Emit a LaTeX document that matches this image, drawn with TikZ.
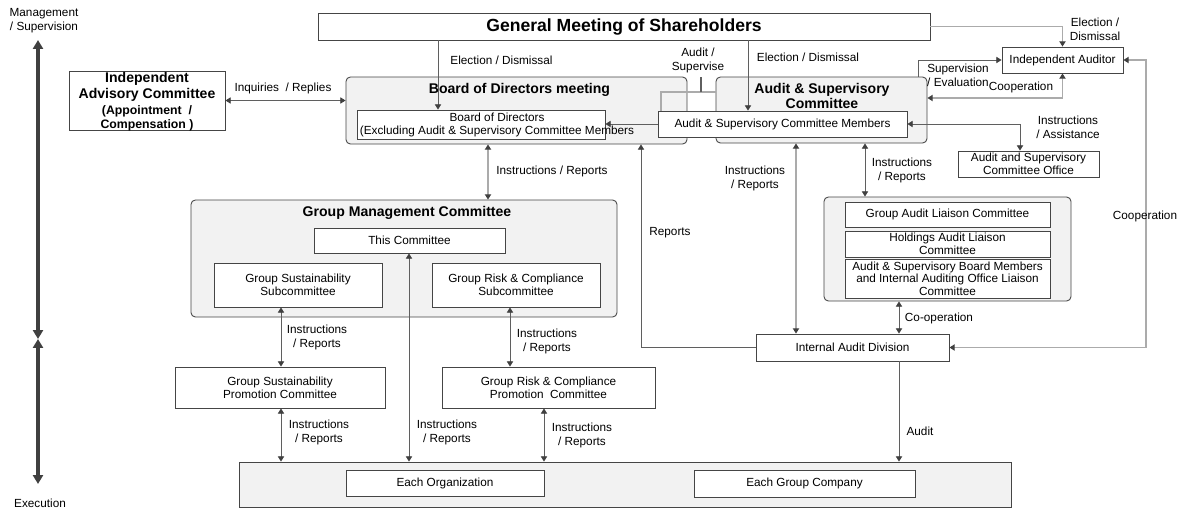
\documentclass[tikz,border=0pt]{standalone}
\usepackage{fontspec}
\setmainfont{Liberation Sans}
\usetikzlibrary{arrows.meta}
\definecolor{bord}{HTML}{454545}
\definecolor{grp}{HTML}{F2F2F2}
\definecolor{cdark}{HTML}{5F5F5F}
\definecolor{clight}{HTML}{ABABAB}
\definecolor{tipc}{HTML}{404040}
\newcommand{\smalltxt}{\fontsize{6.7}{7.4}\selectfont}
\newcommand{\lbltxt}{\fontsize{6.7}{8}\selectfont}
\newcommand{\headtxt}{\fontsize{8}{9}\selectfont\bfseries}
\newcommand{\subtxt}{\fontsize{7}{8}\selectfont\bfseries}
\tikzset{
  sz/.style 2 args={minimum width=#1*0.02cm,minimum height=#2*0.02cm},
  box/.style={draw=bord,fill=white,line width=0.5pt,inner sep=0pt,align=center,font=\smalltxt},
  grpbox/.style={box,fill=grp,rounded corners=2.5pt},
  lbl/.style={inner sep=0pt,align=center,font=\lbltxt},
  ttl/.style={inner sep=0pt,align=center,font=\headtxt},
  conn/.style={draw=cdark,line width=0.5pt},
  connl/.style={draw=clight,line width=0.6pt},
  ar/.style={-{Triangle[length=3pt,width=3.6pt,color=tipc]}},
  dar/.style={{Triangle[length=3pt,width=3.6pt,color=tipc]}-{Triangle[length=3pt,width=3.6pt,color=tipc]}},
  bigar/.style={draw=tipc,line width=2.2pt,{Triangle[length=5pt,width=5.6pt]}-{Triangle[length=5pt,width=5.6pt]}}
}
\begin{document}
\begin{tikzpicture}[x=0.02cm,y=-0.02cm]
\useasboundingbox (0,0) rectangle (1188,514);
\node[lbl] (mgmt) at (44,21) {Management\\/ Supervision};
\node[lbl] (exec) at (40,503) {Execution};
\coordinate (ltop) at (38,40);
\coordinate (lmid) at (38,339);
\coordinate (lbot) at (38,484);
\draw[bigar] (ltop) -- (lmid);
\draw[bigar] (lmid) -- (lbot);

\node[box,sz={612}{27},font=\fontsize{10}{12}\selectfont\bfseries] (gm) at (624,26.5) {General Meeting of Shareholders};
\node[box,sz={156}{59},font=\headtxt] (iac) at (147,100.5) {};
\node[ttl] (iact) at (147,102) {Independent\\Advisory Committee\\\subtxt (Appointment~~/\\[-1pt]\subtxt Compensation~)};

\node[grpbox,sz={341}{67}] (bdm) at (516.5,110.5) {};
\node[ttl] (bdmt) at (519.5,90) {Board of Directors meeting};
\node[grpbox,sz={211}{66}] (asc) at (821.5,110) {};
\node[ttl] (asct) at (822,96) {Audit \& Supervisory\\Committee};
\node[box,sz={248}{29}] (bod) at (481,124.5) {};
\node[lbl,font=\smalltxt] (bodt) at (497,124.5) {Board of Directors\\(Excluding Audit \& Supervisory Committee Members};
\node[box,sz={249}{26}] (ascm) at (782.5,124) {Audit \& Supervisory Committee Members};
\node[box,sz={121}{26}] (ia) at (1062.5,60) {Independent Auditor};
\node[box,sz={141}{26}] (aso) at (1028.5,164) {Audit and Supervisory\\Committee Office};

\node[grpbox,sz={426}{117}] (gmc) at (404,258.5) {};
\node[ttl] (gmct) at (407,213) {Group Management Committee};
\node[box,sz={191}{25}] (tc) at (409.5,240.5) {This Committee};
\node[box,sz={168}{44}] (gss) at (298,285) {Group Sustainability\\Subcommittee};
\node[box,sz={168}{44}] (grcs) at (516,285) {Group Risk \& Compliance\\Subcommittee};
\node[box,sz={210}{41}] (gsp) at (280,387.5) {Group Sustainability\\Promotion Committee};
\node[box,sz={213}{41}] (grcp) at (548.5,387.5) {Group Risk \& Compliance\\Promotion~~Committee};

\node[grpbox,sz={247}{104}] (lia) at (947.5,249) {};
\node[box,sz={205}{25}] (gal) at (947.5,214.5) {Group Audit Liaison Committee};
\node[box,sz={205}{26}] (hal) at (947.5,244) {Holdings Audit Liaison\\Committee};
\node[box,sz={205}{39},font=\fontsize{6.7}{7.1}\selectfont] (asb) at (947.5,278.5) {Audit \& Supervisory Board Members\\and Internal Auditing Office Liaison\\Committee};
\node[box,sz={193}{27}] (iad) at (852.5,347.5) {Internal Audit Division};

\node[box,fill=grp,sz={772}{45}] (each) at (625,484.5) {};
\node[box,sz={198}{26}] (eo) at (445,483) {Each Organization};
\node[box,sz={221}{27}] (egc) at (804.5,483.5) {Each Group Company};

\coordinate (c281) at (281,0);
\coordinate (c409) at (409,0);
\coordinate (c438) at (438,0);
\coordinate (c488) at (488,0);
\coordinate (c510) at (510,0);
\coordinate (c544) at (544,0);
\coordinate (c641) at (641,0);
\coordinate (c661) at (661,0);
\coordinate (c748) at (748,0);
\coordinate (c796) at (796,0);
\coordinate (c865) at (865,0);
\coordinate (c899) at (899,0);
\coordinate (c918) at (918,0);
\coordinate (c1020) at (1020,0);
\coordinate (c1146) at (1146,0);
\coordinate (sup) at (701,92);
\coordinate (coop) at (0,98);

\draw[conn,ar] (gm.south -| c438) -- (bod.north -| c438);
\draw[conn,ar] (gm.south -| c748) -- (ascm.north -| c748);
\draw[connl,ar] (gm.east) -| (ia.north);
\draw[conn,dar] (iac.east) -- (iac.east -| bdm.west);
\draw[conn,ar] (ascm.west) -- (ascm.west -| bod.east);
\draw[connl] (ascm.north -| c661) |- (asc.west |- sup);
\draw[cdark,line width=0.6pt] (sup) -- (sup |- asc.north);
\draw[connl,dar] (bdm.south -| c488) -- (gmc.north -| c488);
\draw[conn,ar] (iad.west) -| (c641 |- bdm.south);
\draw[connl,dar] (asc.south -| c796) -- (iad.north -| c796);
\draw[conn,dar] (asc.south -| c865) -- (lia.north -| c865);
\draw[conn,ar] (asc.north -| c918) |- (ia.west);
\draw[connl,dar] (ia.south) |- (asc.east |- coop);
\draw[conn,dar] (ascm.east) -| (aso.north -| c1020);
\draw[conn,dar] (lia.south -| c899) -- (iad.north -| c899);
\draw[connl,dar] (iad.east) -| (c1146 |- ia.east) -- (ia.east);
\draw[conn,ar] (iad.south -| c899) -- (each.north -| c899);
\draw[conn,dar] (tc.south -| c409) -- (each.north -| c409);
\draw[conn,dar] (gss.south -| c281) -- (gsp.north -| c281);
\draw[conn,dar] (grcs.south -| c510) -- (grcp.north -| c510);
\draw[conn,dar] (gsp.south -| c281) -- (each.north -| c281);
\draw[conn,dar] (grcp.south -| c544) -- (each.north -| c544);

\node[lbl] (inq) at (283,88) {Inquiries~~/ Replies};
\node[lbl] (el1) at (501.5,60) {Election / Dismissal};
\node[lbl] (el2) at (808,57) {Election / Dismissal};
\node[lbl] (el3) at (1095,29) {Election /\\Dismissal};
\node[lbl] (ausu) at (698,60) {Audit /\\Supervise};
\node[lbl] (supev) at (958,75) {Supervision\\/ Evaluation};
\node[lbl] (coop1) at (1021,87) {Cooperation};
\node[lbl] (insas) at (1068,127) {Instructions\\/ Assistance};
\node[lbl] (ir1) at (552,171) {Instructions / Reports};
\node[lbl] (ir2) at (755,178.5) {Instructions\\/ Reports};
\node[lbl] (ir3) at (902,170) {Instructions\\/ Reports};
\node[lbl] (rep) at (670,233) {Reports};
\node[lbl] (coop2) at (1145,216) {Cooperation};
\node[lbl] (coop3) at (939,318) {Co-operation};
\node[lbl] (aud) at (920,431) {Audit};
\node[lbl] (ir4) at (317,337) {Instructions\\/ Reports};
\node[lbl] (ir5) at (547,341) {Instructions\\/ Reports};
\node[lbl] (ir6) at (319,432) {Instructions\\/ Reports};
\node[lbl] (ir7) at (447,432) {Instructions\\/ Reports};
\node[lbl] (ir8) at (582,435) {Instructions\\/ Reports};
\end{tikzpicture}
\end{document}
